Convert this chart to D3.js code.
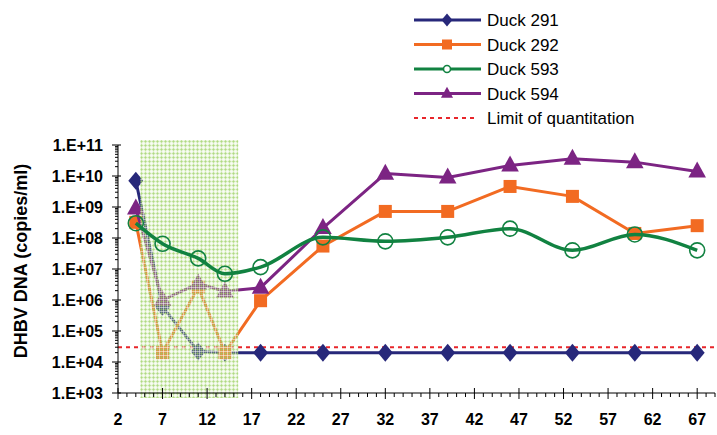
<!DOCTYPE html>
<html>
<head>
<meta charset="utf-8">
<script src="https://cdn.jsdelivr.net/npm/d3@7/dist/d3.min.js"></script>
<style>
  html, body { margin: 0; padding: 0; background: #fff; }
  svg { display: block; font-family: "Liberation Sans", Arial, sans-serif; }
</style>
</head>
<body>
<svg id="chart" width="717" height="435"></svg>
<script>
// Days post infection at which serum samples were taken
const days = [4, 7, 11, 14, 18, 25, 32, 39, 46, 53, 60, 67];

// DHBV DNA, copies/ml
const duck291 = [7e9, 6e5, 2.2e4, 2e4, 2e4, 2e4, 2e4, 2e4, 2e4, 2e4, 2e4, 2e4];
const duck292 = [3.2e8, 2e4, 2.6e6, 2e4, 9.5e5, 5.5e7, 7.2e8, 7.2e8, 4.6e9, 2.2e9, 1.4e8, 2.5e8];
const duck593 = [3e8, 6.5e7, 2.2e7, 7e6, 1.15e7, 1.05e8, 7.8e7, 1.05e8, 2e8, 4e7, 1.3e8, 4e7];
const duck594 = [9e8, 1e6, 3.4e6, 1.9e6, 2.5e6, 2.1e8, 1.2e10, 9e9, 2.2e10, 3.6e10, 2.8e10, 1.4e10];

const limitOfQuantitation = 3e4;
const treatmentWindow = [4.5, 15.5];

const xTicks = [2, 7, 12, 17, 22, 27, 32, 37, 42, 47, 52, 57, 62, 67];
const yTicks = [1e3, 1e4, 1e5, 1e6, 1e7, 1e8, 1e9, 1e10, 1e11];

const seriesNames = ["Duck 291", "Duck 292", "Duck 593", "Duck 594"];
const seriesColors = ["#27287a", "#f26b22", "#118241", "#7c2483"];
const seriesMarkers = ["diamond", "square", "circle", "triangle"];
const seriesValues = [duck291, duck292, duck593, duck594];

const svg = d3.select("#chart");

const x = d3.scaleLinear().domain([2, 69]).range([118, 715]);
const y = d3.scaleLog().domain([1e3, 1e11]).range([393, 145]);

// fine lime plaid for the treatment window
const defs = svg.append("defs");
const pat = defs.append("pattern")
  .attr("id", "grid")
  .attr("patternUnits", "userSpaceOnUse")
  .attr("width", 4).attr("height", 4);
pat.append("rect").attr("width", 4).attr("height", 4)
  .attr("fill", "#bfe394").attr("opacity", 0.35);
pat.append("rect").attr("x", 1).attr("y", 0).attr("width", 1).attr("height", 4)
  .attr("fill", "#98cf5e").attr("opacity", 0.45);
pat.append("rect").attr("x", 0).attr("y", 1).attr("width", 4).attr("height", 1)
  .attr("fill", "#98cf5e").attr("opacity", 0.45);
pat.append("rect").attr("x", 3).attr("y", 0).attr("width", 1).attr("height", 4)
  .attr("fill", "#ffffff").attr("opacity", 0.5);
pat.append("rect").attr("x", 0).attr("y", 3).attr("width", 4).attr("height", 1)
  .attr("fill", "#ffffff").attr("opacity", 0.5);

function marker(sel, type, size, color, fill) {
  const s = size;
  if (type === "diamond") {
    sel.append("path")
      .attr("d", `M0,${-s * 0.6}L${s * 0.5},0L0,${s * 0.6}L${-s * 0.5},0Z`)
      .attr("fill", color);
  } else if (type === "square") {
    sel.append("rect")
      .attr("x", -s / 2).attr("y", -s / 2).attr("width", s).attr("height", s)
      .attr("fill", color);
  } else if (type === "circle") {
    sel.append("circle").attr("r", s / 2)
      .attr("fill", fill || "none").attr("stroke", color).attr("stroke-width", 1.6);
  } else if (type === "triangle") {
    sel.append("path")
      .attr("d", `M0,${-s * 0.62}L${s * 0.55},${s * 0.38}L${-s * 0.55},${s * 0.38}Z`)
      .attr("fill", color);
  }
}

const line = d3.line().x(d => x(d[0])).y(d => y(d[1]));
const smooth = d3.line().x(d => x(d[0])).y(d => y(d[1])).curve(d3.curveMonotoneX);

function drawSeries(i) {
  const pts = days.map((d, k) => [d, seriesValues[i][k]]);
  const g = svg.append("g");
  g.append("path")
    .attr("d", (seriesMarkers[i] === "circle" ? smooth : line)(pts))
    .attr("fill", "none")
    .attr("stroke", seriesColors[i])
    .attr("stroke-width", seriesMarkers[i] === "circle" ? 3.5 : 3)
    .attr("stroke-linejoin", "round");
  const sizes = { diamond: 15, square: 13, circle: 15, triangle: 16 };
  pts.forEach(p => {
    const m = g.append("g").attr("transform", `translate(${x(p[0])},${y(p[1])})`);
    marker(m, seriesMarkers[i], sizes[seriesMarkers[i]], seriesColors[i]);
  });
}

// limit of quantitation
svg.append("line")
  .attr("x1", x(2)).attr("x2", x(69))
  .attr("y1", y(limitOfQuantitation)).attr("y2", y(limitOfQuantitation))
  .attr("stroke", "#e8262b").attr("stroke-width", 2)
  .attr("stroke-dasharray", "4,4");

drawSeries(0);
drawSeries(1);
drawSeries(3);

// treatment window
svg.append("rect")
  .attr("x", x(treatmentWindow[0]))
  .attr("width", x(treatmentWindow[1]) - x(treatmentWindow[0]))
  .attr("y", 140).attr("height", 258)
  .attr("fill", "url(#grid)");

drawSeries(2);

// axes
const axisColor = "#000";
const gx = svg.append("g");
gx.append("line").attr("x1", x(2)).attr("x2", x(69)).attr("y1", y(1e3)).attr("y2", y(1e3))
  .attr("stroke", axisColor).attr("stroke-width", 1);
d3.range(2, 70).forEach(v => {
  const major = xTicks.includes(v);
  gx.append("line")
    .attr("x1", x(v)).attr("x2", x(v))
    .attr("y1", y(1e3) - (major ? 5 : 0)).attr("y2", y(1e3) + (major ? 6 : 4))
    .attr("stroke", axisColor).attr("stroke-width", 1);
});
gx.selectAll("text.xt").data(xTicks).enter().append("text")
  .attr("x", d => x(d)).attr("y", 425)
  .attr("text-anchor", "middle")
  .attr("font-size", 16).attr("font-weight", "bold")
  .text(d => d);

const gy = svg.append("g");
gy.append("line").attr("x1", x(2)).attr("x2", x(2)).attr("y1", y(1e11)).attr("y2", y(1e3))
  .attr("stroke", axisColor).attr("stroke-width", 1);
yTicks.forEach((t, i) => {
  gy.append("line").attr("x1", x(2) - 6).attr("x2", x(2) + 3)
    .attr("y1", y(t)).attr("y2", y(t)).attr("stroke", axisColor);
  if (i < yTicks.length - 1) {
    d3.range(2, 10).forEach(m => {
      gy.append("line").attr("x1", x(2) - 3).attr("x2", x(2))
        .attr("y1", y(t * m)).attr("y2", y(t * m)).attr("stroke", axisColor);
    });
  }
});
gy.selectAll("text.yt").data(yTicks).enter().append("text")
  .attr("x", 103).attr("y", d => y(d) + 6)
  .attr("text-anchor", "end")
  .attr("font-size", 16).attr("font-weight", "bold")
  .text(d => "1.E+" + String(Math.round(Math.log10(d))).padStart(2, "0"));

svg.append("text")
  .attr("transform", "translate(27,261) rotate(-90)")
  .attr("text-anchor", "middle")
  .attr("font-size", 18).attr("font-weight", "bold")
  .text("DHBV DNA (copies/ml)");

// legend
const legendRows = seriesNames.map((n, i) => ({ name: n, color: seriesColors[i], marker: seriesMarkers[i] }));
legendRows.push({ name: "Limit of quantitation", color: "#e8262b", marker: "dash" });
legendRows.forEach((r, i) => {
  const ly = 20 + i * 24.5;
  const g = svg.append("g");
  if (r.marker === "dash") {
    g.append("line").attr("x1", 414).attr("x2", 478).attr("y1", ly).attr("y2", ly)
      .attr("stroke", r.color).attr("stroke-width", 2).attr("stroke-dasharray", "4,4");
  } else {
    g.append("line").attr("x1", 414).attr("x2", 481).attr("y1", ly).attr("y2", ly)
      .attr("stroke", r.color).attr("stroke-width", 3);
    const m = g.append("g").attr("transform", `translate(447,${ly})`);
    const sz = { diamond: 11, square: 10, circle: 7, triangle: 11 }[r.marker];
    marker(m, r.marker, sz, r.color, "#fff");
  }
  g.append("text").attr("x", 487).attr("y", ly + 6)
    .attr("font-size", 17).text(r.name);
});
</script>
</body>
</html>
